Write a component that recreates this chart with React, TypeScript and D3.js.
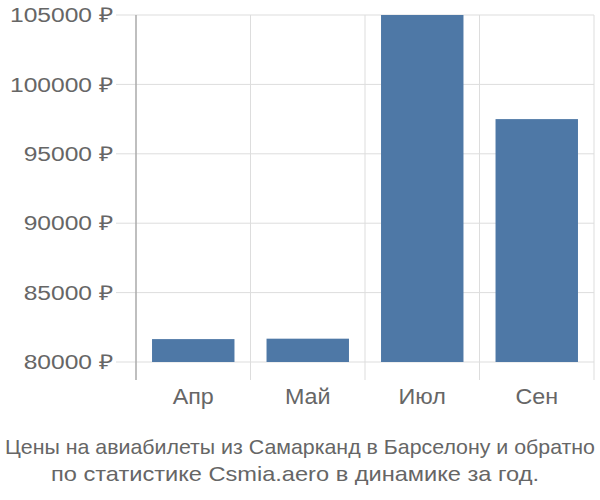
import React from "react";
import * as d3 from "d3";

const months = ["Апр", "Май", "Июл", "Сен"];
const prices = [81650, 81680, 105000, 97500];
const yTicks = [80000, 85000, 90000, 95000, 100000, 105000];
const titleLines = [
  "Цены на авиабилеты из Самарканд в Барселону и обратно",
  "по статистике Csmia.aero в динамике за год.",
];

export default function App() {
  const W = 600, H = 500;
  const left = 136, right = 594, top = 15, bottom = 380;
  const y = d3.scaleLinear().domain([80000, 105000]).range([362, 15]);
  const x = d3.scaleBand<string>().domain(months).range([left, right]).paddingInner(0.28).paddingOuter(0.14);
  const band = (right - left) / months.length;
  const font = "'Liberation Sans', Arial, sans-serif";
  const titleWidths = [590, 488];
  const titleCenters = [300, 295];
  return (
    <svg width={W} height={H} style={{ position: "absolute", left: 0, top: 0 }}>
      <rect width={W} height={H} fill="#fff" />
      {months.map((m, i) => (
        <line key={"v" + i} x1={left + band * (i + 1)} x2={left + band * (i + 1)} y1={top} y2={bottom} stroke="#dddddd" strokeWidth={1} />
      ))}
      {yTicks.map((t) => (
        <g key={t}>
          <line x1={116} x2={right} y1={y(t)} y2={y(t)} stroke="#dddddd" strokeWidth={1} />
          <text
            transform={`translate(113,${y(t)}) scale(1.2,1)`}
            dy="0.35em"
            textAnchor="end"
            fontSize={20.5}
            fill="#666"
            fontFamily={font}
          >
            {t} ₽
          </text>
        </g>
      ))}
      <line x1={left} x2={left} y1={top} y2={bottom} stroke="#aaaaaa" strokeWidth={1.5} />
      {months.map((m, i) => (
        <rect key={m} x={x(m)} width={x.bandwidth()} y={y(prices[i])} height={y(80000) - y(prices[i])} fill="#4e78a6" />
      ))}
      {months.map((m) => (
        <text
          key={"l" + m}
          transform={`translate(${(x(m) as number) + x.bandwidth() / 2},396) scale(1.06,1)`}
          dy="0.35em"
          textAnchor="middle"
          fontSize={22}
          fill="#666"
          fontFamily={font}
        >
          {m}
        </text>
      ))}
      {titleLines.map((t, i) => (
        <text
          key={i}
          x={titleCenters[i] - titleWidths[i] / 2}
          y={447 + i * 27}
          dy="0.35em"
          textLength={titleWidths[i]}
          lengthAdjust="spacingAndGlyphs"
          fontSize={21}
          fill="#666"
          fontFamily={font}
        >
          {t}
        </text>
      ))}
    </svg>
  );
}
